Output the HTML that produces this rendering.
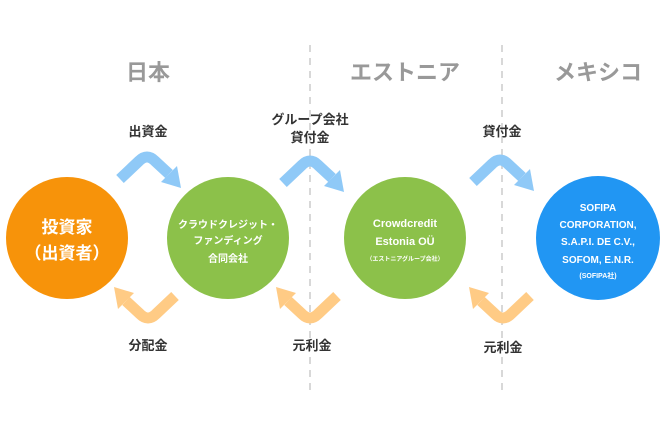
<!DOCTYPE html>
<html><head><meta charset="utf-8"><style>
body{margin:0;background:#fff;}
svg{display:block;}
text{font-family:"Liberation Sans","Noto Sans CJK JP",sans-serif;font-weight:bold;text-anchor:middle;}
</style></head><body>
<svg width="667" height="436" viewBox="0 0 667 436">
<defs>
<g id="up">
<path d="M-27,22 L-8,4 Q0,-4 8,4 L22,17" fill="none" stroke="#8fc9f7" stroke-width="11"/>
<polygon points="14,25 30,9 34,31" fill="#8fc9f7"/>
</g>
<g id="dn">
<path d="M27,-22 L8,-4 Q0,4 -8,-4 L-22,-17" fill="none" stroke="#ffcb85" stroke-width="11"/>
<polygon points="-14,-25 -30,-9 -34,-31" fill="#ffcb85"/>
</g>
</defs>
<line x1="310" y1="45" x2="310" y2="390" stroke="#ccc" stroke-width="1.5" stroke-dasharray="7,6"/>
<line x1="502" y1="45" x2="502" y2="390" stroke="#ccc" stroke-width="1.5" stroke-dasharray="7,6"/>
<text x="148" y="80" font-size="22" fill="#999">日本</text>
<text x="405" y="80" font-size="22" fill="#999">エストニア</text>
<text x="598" y="80" font-size="22" fill="#999">メキシコ</text>

<use href="#up" x="147" y="157"/>
<use href="#up" x="310" y="161"/>
<use href="#up" x="500" y="160"/>
<use href="#dn" x="148" y="318"/>
<use href="#dn" x="310" y="318"/>
<use href="#dn" x="503" y="318"/>

<g font-size="13" fill="#333">
<text x="148" y="136">出資金</text>
<text x="310" y="124">グループ会社</text>
<text x="310" y="142">貸付金</text>
<text x="502" y="136">貸付金</text>
<text x="148" y="350">分配金</text>
<text x="312" y="350">元利金</text>
<text x="503" y="352">元利金</text>
</g>

<circle cx="67" cy="238" r="61" fill="#f7930a"/>
<circle cx="228" cy="238" r="61" fill="#8cc14a"/>
<circle cx="405" cy="238" r="61" fill="#8cc14a"/>
<circle cx="598" cy="238" r="62" fill="#2196f3"/>

<g fill="#fff">
<text x="67" y="233" font-size="17">投資家</text>
<text x="67" y="259" font-size="17">（出資者）</text>
<text x="228" y="228" font-size="10">クラウドクレジット・</text>
<text x="228" y="244" font-size="10">ファンディング</text>
<text x="228" y="262" font-size="10">合同会社</text>
<text x="405" y="227" font-size="11">Crowdcredit</text>
<text x="405" y="245" font-size="11">Estonia OÜ</text>
<text x="405" y="261" font-size="6">（エストニアグループ会社）</text>
<text x="598" y="211" font-size="10">SOFIPA</text>
<text x="598" y="228" font-size="10">CORPORATION,</text>
<text x="598" y="245" font-size="10">S.A.P.I. DE C.V.,</text>
<text x="598" y="263" font-size="10">SOFOM, E.N.R.</text>
<text x="598" y="278" font-size="7">(SOFIPA社)</text>
</g>
</svg>
</body></html>
